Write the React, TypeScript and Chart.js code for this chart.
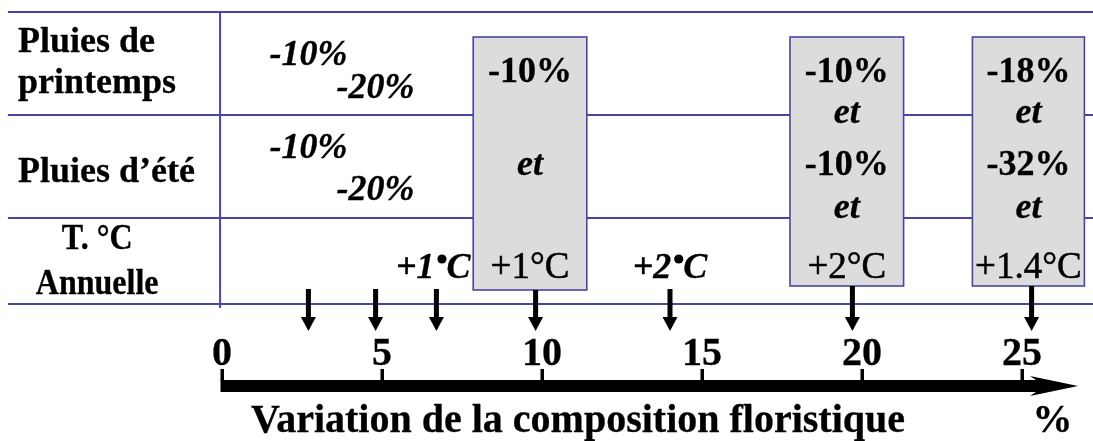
import { useEffect, useRef } from "react";
import { Chart, registerables } from "chart.js";

Chart.register(...registerables);

// ---------- data ----------
const TICK_VALUES = [0, 5, 10, 15, 20, 25];
const ROW_LABELS = [["Pluies de", "printemps"], ["Pluies d’été"], ["T. °C", "Annuelle"]];

// single-factor scenarios (rain)
const RAIN_SCENARIO_X = [2.7, 4.8];
const SPRING_SINGLE = ["-10%", "-20%"];
const SUMMER_SINGLE = ["-10%", "-20%"];

// single-factor scenarios (temperature)
const TEMP_SCENARIO_X = [6.6, 14.0];
const TEMP_SINGLE = ["+1", "+2"];

// combined scenarios (grey boxes)
const COMBO_RANGE: [number, number][] = [[7.85, 11.4], [17.75, 21.3], [23.45, 26.95]];
const COMBO_SPRING = ["-10%", "-10%", "-18%"];
const COMBO_SUMMER: (string | null)[] = [null, "-10%", "-32%"];
const COMBO_TEMP = ["+1°C", "+2°C", "+1.4°C"];

// arrows pointing at the floristic-change axis
const ARROW_X = [2.7, 4.8, 6.7, 9.8, 14.0, 19.7, 25.3];

const AXIS_TITLE = "Variation de la composition floristique";
const AXIS_UNIT = "%";

// ---------- layout (vertical positions / style) ----------
const LAYOUT = {
  xMin: -6.9375,
  xMax: 27.21875,
  tableLines: [12, 115, 218, 304],
  tableLeft: -6.69,
  divider: -0.06,
  boxTop: 37,
  boxBottom: [290, 286, 286],
  labelX: -6.375,
  row3LabelX: -3.9,
  labelBase: [[52, 93], [182], [249, 294]],
  singleBase: [[65, 98], [158, 200]],
  tempBase: 278,
  arrowTop: 289,
  arrowTip: 331,
  axisY: 386,
  axisTip: 26.75,
  tickLabelBase: 365,
  titleX: 11.125,
  unitX: 25.95,
  titleBase: 432,
};

const SERIF = '"Liberation Serif", "Times New Roman", serif';
const LINE_COLOR = "#4846a4";
const BOX_FILL = "#dcdcdc";

function txt(
  ctx: CanvasRenderingContext2D,
  s: string,
  x: number,
  y: number,
  font: string,
  align: CanvasTextAlign = "center",
  weight = 0,
  sy = 1,
) {
  ctx.save();
  ctx.translate(x, y);
  ctx.scale(1, sy);
  ctx.font = font;
  ctx.textAlign = align;
  ctx.textBaseline = "alphabetic";
  ctx.fillStyle = "#000";
  ctx.fillText(s, 0, 0);
  if (weight > 0) {
    ctx.strokeStyle = "#000";
    ctx.lineWidth = weight;
    ctx.lineJoin = "miter";
    ctx.strokeText(s, 0, 0);
  }
  ctx.restore();
}

const diagramPlugin = {
  id: "diagram",
  afterDraw(chart: any) {
    const ctx: CanvasRenderingContext2D = chart.ctx;
    const xs = chart.scales.x;
    const ys = chart.scales.y;
    const X = (v: number) => xs.getPixelForValue(v);
    const Y = (v: number) => ys.getPixelForValue(v);
    const right = chart.chartArea.right;
    ctx.save();

    // table lines
    ctx.strokeStyle = LINE_COLOR;
    ctx.lineWidth = 2;
    LAYOUT.tableLines.forEach((ly) => {
      ctx.beginPath();
      ctx.moveTo(X(LAYOUT.tableLeft), Y(ly));
      ctx.lineTo(right, Y(ly));
      ctx.stroke();
    });
    ctx.beginPath();
    ctx.moveTo(X(LAYOUT.divider), Y(LAYOUT.tableLines[0]));
    ctx.lineTo(X(LAYOUT.divider), Y(LAYOUT.tableLines[3]) + 4);
    ctx.stroke();

    // boxes
    COMBO_RANGE.forEach(([a, b], i) => {
      const x0 = X(a), x1 = X(b), y0 = Y(LAYOUT.boxTop), y1 = Y(LAYOUT.boxBottom[i]);
      ctx.fillStyle = BOX_FILL;
      ctx.fillRect(x0, y0, x1 - x0, y1 - y0);
      ctx.strokeStyle = LINE_COLOR;
      ctx.lineWidth = 1.6;
      ctx.strokeRect(x0, y0, x1 - x0, y1 - y0);
    });

    // row labels
    const big = `bold 36px ${SERIF}`;
    ROW_LABELS[0].forEach((s, k) => txt(ctx, s, X(LAYOUT.labelX), Y(LAYOUT.labelBase[0][k]), big, "left", 0.3));
    ROW_LABELS[1].forEach((s, k) => txt(ctx, s, X(LAYOUT.labelX), Y(LAYOUT.labelBase[1][k]), big, "left", 0.3));
    ROW_LABELS[2].forEach((s, k) =>
      txt(ctx, s, X(LAYOUT.row3LabelX), Y(LAYOUT.labelBase[2][k]), `bold 32px ${SERIF}`, "center", 0.3, 1.12),
    );

    // single rain scenarios
    const bi = `italic bold 36px ${SERIF}`;
    RAIN_SCENARIO_X.forEach((v, k) => {
      txt(ctx, SPRING_SINGLE[k], X(v), Y(LAYOUT.singleBase[0][k]), bi, "center", 0.3);
      txt(ctx, SUMMER_SINGLE[k], X(v), Y(LAYOUT.singleBase[1][k]), bi, "center", 0.3);
    });

    // single temperature scenarios: "+1•C"
    TEMP_SCENARIO_X.forEach((v, k) => {
      ctx.font = bi;
      const w1 = ctx.measureText(TEMP_SINGLE[k]).width;
      const wc = ctx.measureText("C").width;
      const gap = 12;
      const total = w1 + gap + wc;
      const cx = X(v) - total / 2;
      const by = Y(LAYOUT.tempBase);
      txt(ctx, TEMP_SINGLE[k], cx, by, bi, "left", 0.3);
      ctx.beginPath();
      ctx.arc(cx + w1 + gap / 2 + 1.5, by - 19, 4.6, 0, Math.PI * 2);
      ctx.fillStyle = "#000";
      ctx.fill();
      txt(ctx, "C", cx + w1 + gap, by, bi, "left", 0.3);
    });

    // combined scenarios text
    const bold = `bold 36px ${SERIF}`;
    const reg = `37px ${SERIF}`;
    COMBO_RANGE.forEach(([a, b], i) => {
      const cx = X((a + b) / 2);
      txt(ctx, COMBO_SPRING[i], cx, Y(82), bold, "center", 0.3);
      const summer = COMBO_SUMMER[i];
      if (summer) {
        txt(ctx, "et", cx, Y(123), bi, "center", 0.3);
        txt(ctx, summer, cx, Y(175), bold, "center", 0.3);
        txt(ctx, "et", cx, Y(218), bi, "center", 0.3);
      } else {
        txt(ctx, "et", cx, Y(175), bi, "center", 0.3);
      }
      txt(ctx, COMBO_TEMP[i], cx, Y(LAYOUT.tempBase), reg, "center", 0.5);
    });

    // arrows
    ctx.fillStyle = "#000";
    ctx.strokeStyle = "#000";
    ARROW_X.forEach((v) => {
      const ax = X(v);
      let top = Y(LAYOUT.arrowTop);
      COMBO_RANGE.forEach(([a, b], i) => {
        if (v >= a && v <= b) top = Y(LAYOUT.boxBottom[i]);
      });
      const tip = Y(LAYOUT.arrowTip);
      ctx.lineWidth = 5;
      ctx.beginPath();
      ctx.moveTo(ax, top);
      ctx.lineTo(ax, tip - 10);
      ctx.stroke();
      ctx.beginPath();
      ctx.moveTo(ax - 7.5, tip - 14);
      ctx.lineTo(ax + 7.5, tip - 14);
      ctx.lineTo(ax, tip);
      ctx.closePath();
      ctx.fill();
    });

    // main axis
    const ay = Y(LAYOUT.axisY);
    const x0 = X(0);
    const tipX = X(LAYOUT.axisTip);
    ctx.fillRect(x0 - 1.5, ay - 6, tipX - 32 - (x0 - 1.5), 12);
    xs.ticks.forEach((t: any) => {
      const tx = X(t.value);
      ctx.fillRect(tx - 1.5, ay - 17, 3.5, 12);
      txt(ctx, String(t.value), tx, Y(LAYOUT.tickLabelBase), `bold 40px ${SERIF}`, "center", 0.3);
    });
    ctx.beginPath();
    ctx.moveTo(tipX, ay);
    ctx.lineTo(tipX - 48, ay - 10);
    ctx.lineTo(tipX - 33, ay);
    ctx.lineTo(tipX - 48, ay + 10);
    ctx.closePath();
    ctx.fill();

    // axis title
    txt(ctx, AXIS_TITLE, X(LAYOUT.titleX), Y(LAYOUT.titleBase), `bold 40px ${SERIF}`, "center", 0.3);
    txt(ctx, AXIS_UNIT, X(LAYOUT.unitX), Y(LAYOUT.titleBase), `bold 40px ${SERIF}`, "center", 0.3);

    ctx.restore();
  },
};

export default function App() {
  const ref = useRef<HTMLCanvasElement | null>(null);
  useEffect(() => {
    if (!ref.current) return;
    const chart = new Chart(ref.current, {
      type: "scatter",
      data: { datasets: [] },
      options: {
        animation: false,
        responsive: false,
        devicePixelRatio: 1,
        layout: { padding: 0 },
        plugins: { legend: { display: false }, tooltip: { enabled: false }, title: { display: false } },
        scales: {
          x: {
            type: "linear",
            display: false,
            min: LAYOUT.xMin,
            max: LAYOUT.xMax,
            afterBuildTicks: (scale: any) => {
              scale.ticks = TICK_VALUES.map((v) => ({ value: v }));
            },
          },
          y: { type: "linear", display: false, min: 0, max: 441, reverse: true },
        },
      },
      plugins: [diagramPlugin],
    });
    return () => chart.destroy();
  }, []);
  return (
    <div style={{ position: "absolute", left: 0, top: 0, width: 1093, height: 441, background: "#fff" }}>
      <canvas ref={ref} width={1093} height={441} style={{ display: "block" }} />
    </div>
  );
}
